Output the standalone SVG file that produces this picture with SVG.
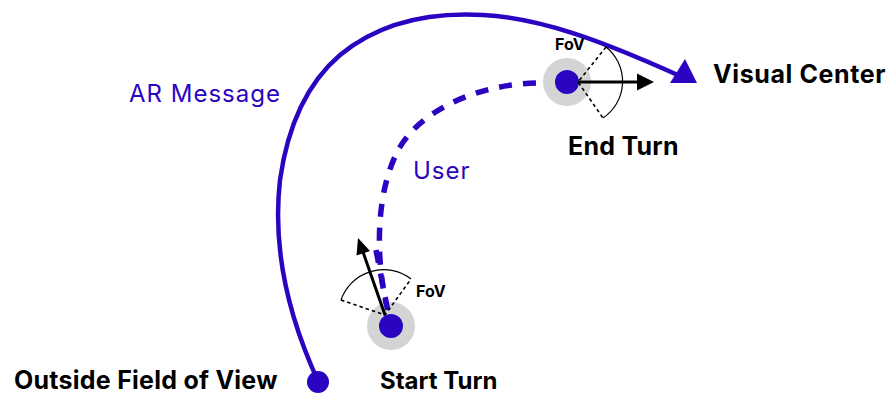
<svg xmlns="http://www.w3.org/2000/svg" width="887" height="396" viewBox="0 0 887 396">
<style>
.blue{fill:#2b04c2}
.halo{fill:#d4d4d4}
.lbl{font-family:Inter,"Liberation Sans",sans-serif;font-weight:700;font-size:25px;fill:#000}
.blbl{font-family:Inter,"Liberation Sans",sans-serif;font-weight:400;font-size:24px;letter-spacing:1px;fill:#2b04c2}
.fov{font-family:Inter,"Liberation Sans",sans-serif;font-weight:700;font-size:16px;fill:#000}
.wedge{fill:none;stroke:#000;stroke-width:1.6;stroke-dasharray:3.5,3}
.arc{fill:none;stroke:#000;stroke-width:1.2}
.ptr{stroke:#000;stroke-width:3;fill:none}
</style>
<rect width="887" height="396" fill="#fff"/>
<g id="connectors">
<path id="ar-message" d="M318,381 C290,320 272,250 280,180 C287,130 305,85 340,55 C380,22 430,12 483,15 C540,18 600,40 680,76" fill="none" stroke="#2b04c2" stroke-width="4.5"/>
<polygon points="685,59 670,83 697,83" class="blue"/>
<path id="user-path" d="M388,312 C375,260 375,190 400,147 C418,116 470,82 547,83" fill="none" stroke="#2b04c2" stroke-width="5.5" stroke-dasharray="13,11"/>
</g>
<g id="outside-fov">
<circle cx="318" cy="382" r="11" class="blue"/>
<text x="14" y="389" class="lbl" letter-spacing="0.25">Outside Field of View</text>
</g>
<g id="start-turn">
<circle cx="391" cy="326" r="24" class="halo"/>
<path d="M376,250 L388,312" fill="none" stroke="#2b04c2" stroke-width="5.5" stroke-dasharray="13,11"/>
<circle cx="391" cy="326" r="12" class="blue"/>
<path d="M341,300 L385,315 L411,279" class="wedge"/>
<path d="M341,300 A45,45 0 0 1 411,279" class="arc"/>
<line x1="385" y1="315" x2="363" y2="252" class="ptr"/>
<polygon points="358,238 370,251 356.5,255.5" fill="#000"/>
<text x="416" y="297" class="fov">FoV</text>
<text x="380" y="389" class="lbl" style="font-size:24px">Start Turn</text>
</g>
<g id="end-turn">
<circle cx="567" cy="82" r="24" class="halo"/>
<circle cx="567" cy="82" r="12" class="blue"/>
<path d="M606,47 L578,82 L603,118" class="wedge"/>
<path d="M606,47 A44,44 0 0 1 603,118" class="arc"/>
<line x1="578" y1="82" x2="640" y2="82" class="ptr"/>
<polygon points="654,82 637,73.5 637,90.5" fill="#000"/>
<text x="555" y="50" class="fov">FoV</text>
<text x="568" y="155" class="lbl" letter-spacing="0.25">End Turn</text>
</g>
<g id="visual-center">
<text x="713" y="83" class="lbl" letter-spacing="0.6">Visual Center</text>
</g>
<g id="labels">
<text x="129" y="102" class="blbl">AR Message</text>
<text x="413" y="179" class="blbl">User</text>
</g>
</svg>
